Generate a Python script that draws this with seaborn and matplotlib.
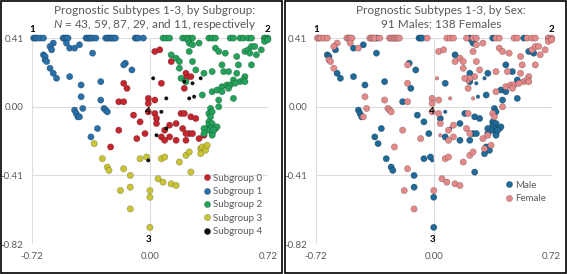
import pandas as pd
import matplotlib.pyplot as plt
import seaborn as sns
from matplotlib.lines import Line2D
from matplotlib.patches import Rectangle

sns.set_style("white")
plt.rcParams['font.family'] = ['Lato', 'DejaVu Sans']
plt.rcParams['mathtext.fontset'] = 'custom'
plt.rcParams['mathtext.it'] = 'Lato:italic'
plt.rcParams['mathtext.rm'] = 'Lato'

# ---- data (x, y, sex) ----
# Subgroup 0 (red)
sg0_x = [-0.16, -0.14, -0.19, -0.16, -0.01, -0.10, -0.06, -0.19, -0.08, 0.03, 0.06, 0.13, 0.22, 0.25, 0.22,
         0.07, 0.21, 0.03, -0.01, -0.01, 0.03, 0.04, 0.04, 0.19, 0.21, 0.25, 0.28, 0.12, 0.16, 0.20,
         0.24, 0.22, 0.07, 0.12, 0.16, 0.30, 0.26, -0.24, 0.09, 0.22, 0.33, -0.03, 0.09]
sg0_y = [0.14, 0.11, 0.03, 0.03, 0.05, -0.05, -0.09, -0.14, -0.19, 0.33, 0.34, 0.27, 0.20, 0.18, 0.17,
         0.14, 0.11, 0.04, 0.02, -0.03, -0.04, -0.07, -0.10, -0.04, -0.04, -0.06, -0.07, -0.11, -0.10, -0.13,
         -0.16, -0.16, -0.18, -0.18, -0.20, -0.19, -0.16, -0.24, -0.20, -0.20, -0.17, -0.16, -0.14]
sg0_sex = list("FMMFFMMFFFFFMFFMFFFFFMFMFMMFMFMFMFMFMFFMFMF")

# Subgroup 1 (blue)
sg1_x = [-0.71, -0.70, -0.69, -0.67, -0.65, -0.53, -0.52, -0.51, -0.50, -0.39, -0.38, -0.37, -0.36,
         -0.35, -0.33, -0.27, -0.26, -0.25, -0.24, -0.23, -0.22, -0.21, -0.09, -0.08, -0.07, -0.04,
         -0.59, -0.61, -0.60, -0.51, -0.49, -0.46, -0.43, -0.35, -0.65, -0.64, -0.64, -0.63, -0.61,
         -0.59, -0.57, -0.49, -0.42, -0.30, -0.42, -0.30, -0.15, -0.16, -0.11, -0.46, -0.45, -0.44,
         -0.43, -0.41, -0.28, -0.27, -0.26, -0.32, -0.36]
sg1_y = [0.41, 0.41, 0.41, 0.41, 0.41, 0.41, 0.41, 0.41, 0.41, 0.41, 0.41, 0.41, 0.41,
         0.41, 0.41, 0.41, 0.41, 0.41, 0.41, 0.41, 0.41, 0.41, 0.41, 0.41, 0.41, 0.41,
         0.38, 0.36, 0.34, 0.38, 0.35, 0.35, 0.37, 0.32, 0.31, 0.30, 0.28, 0.27, 0.23,
         0.20, 0.17, 0.18, 0.13, 0.15, 0.06, 0.04, 0.26, 0.25, 0.22, -0.02, -0.04, -0.06,
         -0.06, -0.01, -0.01, -0.02, -0.03, -0.13, -0.18]
sg1_sex = list("FFFFFFFFFFFFFMFFFFFFFFMMMF" "FFMFMFMMMMFFFMMMMMFFMFMMMMFFFFFMM")

# Subgroup 2 (green)
sg2_x = [0.08, 0.10, 0.12, 0.20, 0.22, 0.24, 0.26, 0.36, 0.38, 0.40, 0.49, 0.51, 0.55, 0.57, 0.60,
         0.62, 0.70, 0.72, 0.70, 0.71, 0.70, 0.72,
         0.23, 0.24, 0.26, 0.30, 0.24, 0.40, 0.42, 0.46, 0.13, 0.16, 0.18, 0.26, 0.53, 0.58, 0.60,
         0.62, 0.64, 0.61, 0.68, 0.65, 0.62, 0.18, 0.28, 0.33, 0.38, 0.44, 0.45, 0.48, 0.54, 0.53,
         0.19, 0.22, 0.58, 0.55, 0.57, 0.51, 0.44, 0.47, 0.49, 0.52, 0.48, 0.58, 0.38, 0.41, 0.44,
         0.32, 0.51, 0.42, 0.37, 0.36, 0.38, 0.42, 0.37, 0.36, 0.36, 0.38, 0.37, 0.35, 0.33, 0.40,
         0.41, 0.38, 0.39, 0.33, 0.38]
sg2_y = [0.41, 0.41, 0.41, 0.41, 0.41, 0.41, 0.41, 0.41, 0.41, 0.41, 0.41, 0.41, 0.41, 0.41, 0.41,
         0.41, 0.41, 0.41, 0.41, 0.40, 0.39, 0.40,
         0.40, 0.38, 0.37, 0.38, 0.33, 0.35, 0.33, 0.32, 0.31, 0.29, 0.27, 0.27, 0.30, 0.33, 0.34,
         0.36, 0.36, 0.32, 0.34, 0.31, 0.25, 0.23, 0.22, 0.20, 0.21, 0.25, 0.21, 0.21, 0.25, 0.20,
         0.17, 0.15, 0.18, 0.15, 0.16, 0.16, 0.12, 0.13, 0.13, 0.14, 0.11, 0.15, 0.09, 0.10, 0.09,
         0.07, 0.05, 0.04, -0.01, -0.04, -0.03, 0.00, -0.06, -0.09, -0.11, -0.10, -0.13, -0.14, -0.13, -0.13,
         -0.12, -0.16, -0.14, -0.16, -0.17]
sg2_sex = list("FFFFMFFMFFFFMFFFFFFFFF" "MMFFFFFFMFFFFMFFFMFFFFFMFMFMFFFMFFFMFFFFFFFMMMMMMFMFFMMMMMMMMMMMM")

# Subgroup 3 (yellow)
sg3_x = [-0.34, -0.29, -0.26, -0.25, -0.16, -0.12, -0.06, -0.02, -0.18, -0.12, 0.00, 0.00, -0.12, 0.00,
         0.07, 0.09, 0.18, 0.22, 0.24, 0.31, 0.32, 0.34, 0.31, 0.35, 0.25, 0.05, 0.08, 0.13, 0.16]
sg3_y = [-0.22, -0.31, -0.36, -0.38, -0.37, -0.41, -0.31, -0.30, -0.50, -0.48, -0.50, -0.54, -0.61, -0.72,
         -0.31, -0.30, -0.33, -0.29, -0.27, -0.25, -0.24, -0.26, -0.28, -0.23, -0.39, -0.43, -0.45, -0.46, -0.47]
sg3_sex = list("MMMMFMMMFMFMFMFFFFFFMMMFMFFFF")

# Subgroup 4 (black)
sg4_x = [0.02, 0.21, 0.26, 0.31, 0.10, 0.24, 0.27, 0.07, 0.10, 0.04, -0.01]
sg4_y = [0.17, 0.15, 0.14, 0.17, 0.05, 0.05, 0.06, -0.03, -0.13, -0.17, -0.32]
sg4_sex = list("FFMMFFMMMFM")

groups = ["Subgroup 0", "Subgroup 1", "Subgroup 2", "Subgroup 3", "Subgroup 4"]
group_colors = ["#C3262E", "#2A70A8", "#24A15A", "#C8C436", "#111111"]
sex_labels = ["Male", "Female"]
sex_colors = ["#1F6A98", "#E3898A"]

vertex_labels = ["1", "2", "3", "4"]
vertex_x = [-0.72, 0.72, 0.00, 0.00]
vertex_y = [0.41, 0.41, -0.82, 0.00]

frames = []
for name, xs, ys, sx in zip(groups, [sg0_x, sg1_x, sg2_x, sg3_x, sg4_x],
                            [sg0_y, sg1_y, sg2_y, sg3_y, sg4_y],
                            [sg0_sex, sg1_sex, sg2_sex, sg3_sex, sg4_sex]):
    frames.append(pd.DataFrame({"x": xs, "y": ys, "sex": sx, "group": name}))
df = pd.concat(frames, ignore_index=True)
df["Sex"] = df["sex"].map({"M": "Male", "F": "Female"})
df["mk"] = (df["group"] == "Subgroup 4").map({True: "small", False: "big"})

gray = "#595959"
fig = plt.figure(figsize=(5.67, 2.74), dpi=100)
ax1 = fig.add_axes([0.0564, 0.109, 0.416, 0.752])
ax2 = fig.add_axes([0.557, 0.109, 0.416, 0.752])

sns.scatterplot(data=df, x="x", y="y", hue="group", hue_order=groups,
                palette=dict(zip(groups, group_colors)), size="mk",
                sizes={"big": 21, "small": 7}, edgecolor=(0, 0, 0, 0.3),
                linewidth=0.4, legend=False, ax=ax1, clip_on=False, zorder=3)

df2 = pd.concat([df[df["Sex"] == "Male"], df[df["Sex"] == "Female"]])
sns.scatterplot(data=df2, x="x", y="y", hue="Sex", hue_order=sex_labels,
                palette=dict(zip(sex_labels, sex_colors)), size="mk",
                sizes={"big": 21, "small": 7}, edgecolor=(0, 0, 0, 0.3),
                linewidth=0.4, legend=False, ax=ax2, clip_on=False, zorder=3)

for ax in (ax1, ax2):
    ax.set_xlim(-0.72, 0.72)
    ax.set_ylim(-0.82, 0.41)
    ax.set_xticks([-0.72, 0.0, 0.72])
    ax.set_yticks([-0.82, -0.41, 0.0, 0.41])
    ax.set_xticklabels(["-0.72", "0.00", "0.72"])
    ax.set_yticklabels(["-0.82", "-0.41", "0.00", "0.41"])
    ax.tick_params(length=0, labelsize=7, labelcolor=gray, pad=6)
    ax.grid(True, color="#DDDDDD", linewidth=0.8)
    ax.set_axisbelow(True)
    for sp in ax.spines.values():
        sp.set_visible(False)
    ax.set_xlabel("")
    ax.set_ylabel("")
    for lab, vx, vy in zip(vertex_labels, vertex_x, vertex_y):
        if lab in ("1", "2"):
            off, va = (0, 3), "bottom"
        elif lab == "3":
            off, va = (-1, 3), "center"
        else:
            off, va = (-1.5, -3.5), "center"
        ax.annotate(lab, xy=(vx, vy), xytext=off, textcoords="offset points",
                    ha="center", va=va, fontsize=7, fontweight="bold",
                    color="black", zorder=5, annotation_clip=False)

h1 = [Line2D([], [], marker="o", ls="", color=c, markersize=4.5,
             markeredgecolor=(0, 0, 0, 0.3), markeredgewidth=0.4) for c in group_colors]
ax1.legend(h1, groups, loc="lower right", bbox_to_anchor=(1.0, 0.01), frameon=False,
           fontsize=7, labelcolor=gray, handletextpad=0.1, handlelength=1.0,
           labelspacing=0.45, borderaxespad=0.2)
h2 = [Line2D([], [], marker="o", ls="", color=c, markersize=4.5,
             markeredgecolor=(0, 0, 0, 0.3), markeredgewidth=0.4) for c in sex_colors]
ax2.legend(h2, sex_labels, loc="lower right", bbox_to_anchor=(1.0, 0.17), frameon=False,
           fontsize=7, labelcolor=gray, handletextpad=0.1, handlelength=1.0,
           labelspacing=0.45, borderaxespad=0.2)

fig.text(0.273, 0.962, "Prognostic Subtypes 1-3, by Subgroup:", ha="center", va="center",
         fontsize=8.5, color=gray)
fig.text(0.273, 0.912, r"$\mathit{N}$ = 43, 59, 87, 29, and 11, respectively", ha="center",
         va="center", fontsize=8.5, color=gray)
fig.text(0.778, 0.962, "Prognostic Subtypes 1-3, by Sex:", ha="center", va="center",
         fontsize=8.5, color=gray)
fig.text(0.778, 0.912, "91 Males; 138 Females", ha="center", va="center",
         fontsize=8.5, color=gray)

fig.add_artist(Rectangle((0.001, 0.002), 0.497, 0.994, transform=fig.transFigure,
                         fill=False, edgecolor="black", linewidth=1.2))
fig.add_artist(Rectangle((0.502, 0.002), 0.497, 0.994, transform=fig.transFigure,
                         fill=False, edgecolor="black", linewidth=1.2))

fig.savefig("out.png", dpi=100)
